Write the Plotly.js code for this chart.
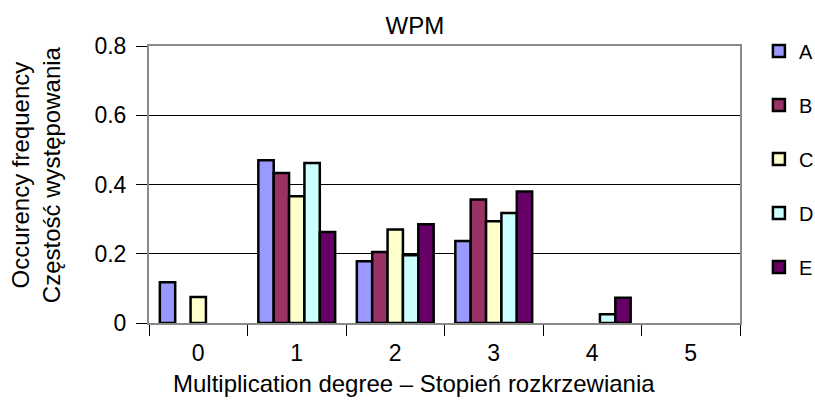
<!DOCTYPE html>
<html>
<head>
<meta charset="utf-8">
<script src="https://cdn.plot.ly/plotly-3.0.1.min.js"></script>
<style>
  html, body { margin: 0; padding: 0; background: #fff; }
  #chart { width: 815px; height: 401px; }
</style>
</head>
<body>
<div id="chart"></div>
<script>
// Multiplication degree categories
const degrees = ['0', '1', '2', '3', '4', '5'];

// Occurrence frequency per series (null = no bar)
const seriesA = [0.118, 0.470, 0.178, 0.237, null, null];
const seriesB = [null, 0.433, 0.205, 0.357, null, null];
const seriesC = [0.075, 0.366, 0.270, 0.294, null, null];
const seriesD = [null, 0.462, 0.196, 0.318, 0.025, null];
const seriesE = [null, 0.263, 0.285, 0.380, 0.073, null];

const seriesNames = ['A', 'B', 'C', 'D', 'E'];
const seriesValues = [seriesA, seriesB, seriesC, seriesD, seriesE];
const seriesColors = ['#9999FF', '#993366', '#FFFFCC', '#CCFFFF', '#660066'];

const yTicks = [0, 0.2, 0.4, 0.6, 0.8];
const yTickText = ['0', '0.2', '0.4', '0.6', '0.8'];

const FONT = 'Liberation Sans, Arial, sans-serif';

const traces = seriesNames.map((name, i) => ({
  type: 'bar',
  name: name,
  legendgroup: name,
  x: degrees,
  y: seriesValues[i],
  marker: { color: seriesColors[i], line: { color: '#000', width: 2.5 } },
  hoverinfo: 'name+x+y'
}));

const layout = {
  width: 815,
  height: 401,
  margin: { l: 149, r: 75, t: 46, b: 78, autoexpand: false },
  paper_bgcolor: '#fff',
  plot_bgcolor: '#fff',
  font: { family: FONT, color: '#000', size: 23 },
  title: {
    text: 'WPM',
    font: { family: FONT, size: 24, color: '#000' },
    x: 0.509, xref: 'container', xanchor: 'center',
    y: 0.935, yref: 'container', yanchor: 'middle'
  },
  barmode: 'group',
  bargap: 0.22,
  bargroupgap: 0,
  showlegend: true,
  legend: {
    x: 1.032, xanchor: 'left',
    y: 1.052, yanchor: 'top',
    font: { family: FONT, size: 20, color: '#000' },
    tracegroupgap: 25,
    maxheight: 380,
    bgcolor: 'rgba(0,0,0,0)',
    borderwidth: 0
  },
  xaxis: {
    type: 'category',
    categoryorder: 'array',
    categoryarray: degrees,
    range: [-0.5, 5.5],
    showgrid: false,
    zeroline: false,
    showline: true,
    mirror: true,
    linecolor: '#8a8a8a',
    linewidth: 2,
    ticks: 'outside',
    tickson: 'boundaries',
    ticklen: 11,
    tickwidth: 1,
    tickcolor: '#000',
    ticklabelstandoff: 8,
    tickfont: { family: FONT, size: 23, color: '#000' },
    fixedrange: true
  },
  yaxis: {
    range: [0, 0.8],
    tickvals: yTicks,
    ticktext: yTickText,
    showgrid: true,
    gridcolor: '#000',
    gridwidth: 1,
    zeroline: false,
    showline: true,
    mirror: true,
    linecolor: '#8a8a8a',
    linewidth: 2,
    ticks: 'outside',
    ticklen: 11,
    tickwidth: 1,
    tickcolor: '#000',
    ticklabelstandoff: 5,
    tickfont: { family: FONT, size: 23, color: '#000' },
    fixedrange: true
  },
  annotations: [
    {
      text: 'Multiplication degree – Stopień rozkrzewiania',
      xref: 'paper', yref: 'paper',
      x: 0.448, y: -0.22,
      xanchor: 'center', yanchor: 'middle',
      showarrow: false,
      font: { family: FONT, size: 24, color: '#000' }
    },
    {
      text: 'Occurency frequency<br>Częstość występowania',
      xref: 'paper', yref: 'paper',
      x: -0.191, y: 0.534,
      xanchor: 'center', yanchor: 'middle',
      textangle: -90,
      showarrow: false,
      font: { family: FONT, size: 24, color: '#000' }
    }
  ]
};

Plotly.newPlot('chart', traces, layout, { displayModeBar: false, staticPlot: true });
</script>
</body>
</html>
